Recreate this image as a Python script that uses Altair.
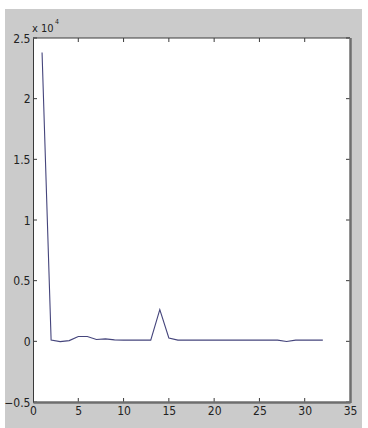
import altair as alt
import pandas as pd

# ---- data ----
xs = list(range(1, 33))
ys = [23800, 100, -20, 60, 400, 400, 150, 200, 120, 100, 100, 100, 100, 2620,
      280, 100, 100, 100, 100, 100, 100, 100, 100, 100, 100, 100, 100, -10,
      100, 100, 100, 100]
x_ticks = [0, 5, 10, 15, 20, 25, 30, 35]
y_ticks = [-0.5, 0, 0.5, 1, 1.5, 2, 2.5]
x_inner_ticks = [5, 10, 15, 20, 25, 30]

W, H = 317, 364
FONT = "Liberation Sans Narrow, DejaVu Sans Condensed, Liberation Sans, Arial, sans-serif"
LINE_COLOR = "#45457c"
FRAME = "#3a3a3a"
SHADOW = "#6e6e6e"
BG = "#cbcbcb"

df = pd.DataFrame({"x": xs, "v": ys})
df["y"] = df["v"] / 10000.0

xscale = alt.Scale(domain=[0, 35], nice=False, zero=False)
yscale = alt.Scale(domain=[-0.5, 2.5], nice=False, zero=False)

# grey figure panel behind the axes
panel = alt.Chart(pd.DataFrame({"a": [0]})).mark_rect(color=BG).encode(
    x=alt.value(-28), x2=alt.value(329), y=alt.value(-29), y2=alt.value(390)
)
plotbg = alt.Chart(pd.DataFrame({"a": [0]})).mark_rect(color="white").encode(
    x=alt.value(0), x2=alt.value(W), y=alt.value(0), y2=alt.value(H)
)

line = alt.Chart(df).mark_line(color=LINE_COLOR, strokeWidth=1.1).encode(
    x=alt.X("x:Q", scale=xscale,
            axis=alt.Axis(values=x_ticks, title=None, ticks=False, grid=False,
                          domainColor=SHADOW, domainWidth=2.5, zindex=2,
                          labelFont=FONT, labelFontSize=12, labelColor="#222",
                          labelPadding=3, labelFlush=False)),
    y=alt.Y("y:Q", scale=yscale,
            axis=alt.Axis(values=y_ticks, title=None, ticks=False, grid=False,
                          domainColor=FRAME, domainWidth=1, zindex=2,
                          labelFont=FONT, labelFontSize=12, labelColor="#222",
                          labelPadding=3, labelFlush=False,
                          labelExpr="datum.value == 0 ? '0' : format(datum.value, '.2~f')")),
)

# inward tick marks on all four sides
xt = pd.DataFrame({"t": x_inner_ticks})
yt = pd.DataFrame({"t": y_ticks})
tick_bottom = alt.Chart(xt).mark_rule(color=FRAME, strokeWidth=1).encode(
    x=alt.X("t:Q", scale=xscale), y=alt.value(H), y2=alt.value(H - 4))
tick_top = alt.Chart(xt).mark_rule(color=FRAME, strokeWidth=1).encode(
    x=alt.X("t:Q", scale=xscale), y=alt.value(0), y2=alt.value(4))
tick_left = alt.Chart(yt).mark_rule(color=FRAME, strokeWidth=1).encode(
    y=alt.Y("t:Q", scale=yscale), x=alt.value(0), x2=alt.value(4))
tick_right = alt.Chart(yt).mark_rule(color=FRAME, strokeWidth=1).encode(
    y=alt.Y("t:Q", scale=yscale), x=alt.value(W), x2=alt.value(W - 4))

# frame: thin dark top, thick grey right
frame_top = alt.Chart(pd.DataFrame({"a": [0]})).mark_rule(color=FRAME, strokeWidth=1).encode(
    x=alt.value(0), x2=alt.value(W), y=alt.value(0))
frame_right = alt.Chart(pd.DataFrame({"a": [0]})).mark_rule(color=SHADOW, strokeWidth=2.5).encode(
    x=alt.value(W + 0.5), y=alt.value(0), y2=alt.value(H + 1))

# exponent label "x 10^4"
exp_main = alt.Chart(pd.DataFrame({"s": ["x 10"]})).mark_text(
    font=FONT, fontSize=11, color="#222", align="left", baseline="alphabetic"
).encode(text="s:N", x=alt.value(-1), y=alt.value(-6))
exp_sup = alt.Chart(pd.DataFrame({"s": ["4"]})).mark_text(
    font=FONT, fontSize=7, color="#222", align="left", baseline="alphabetic"
).encode(text="s:N", x=alt.value(22), y=alt.value(-14))

chart = alt.layer(
    panel, plotbg, line, tick_bottom, tick_top, tick_left, tick_right,
    frame_top, frame_right, exp_main, exp_sup
).properties(
    width=W, height=H,
    autosize=alt.AutoSizeParams(type="none"),
    padding={"left": 33, "top": 38, "right": 18, "bottom": 26},
    background="white",
).configure_view(stroke=None)

chart.save("out.html", embed_options={"renderer": "svg", "actions": False})
